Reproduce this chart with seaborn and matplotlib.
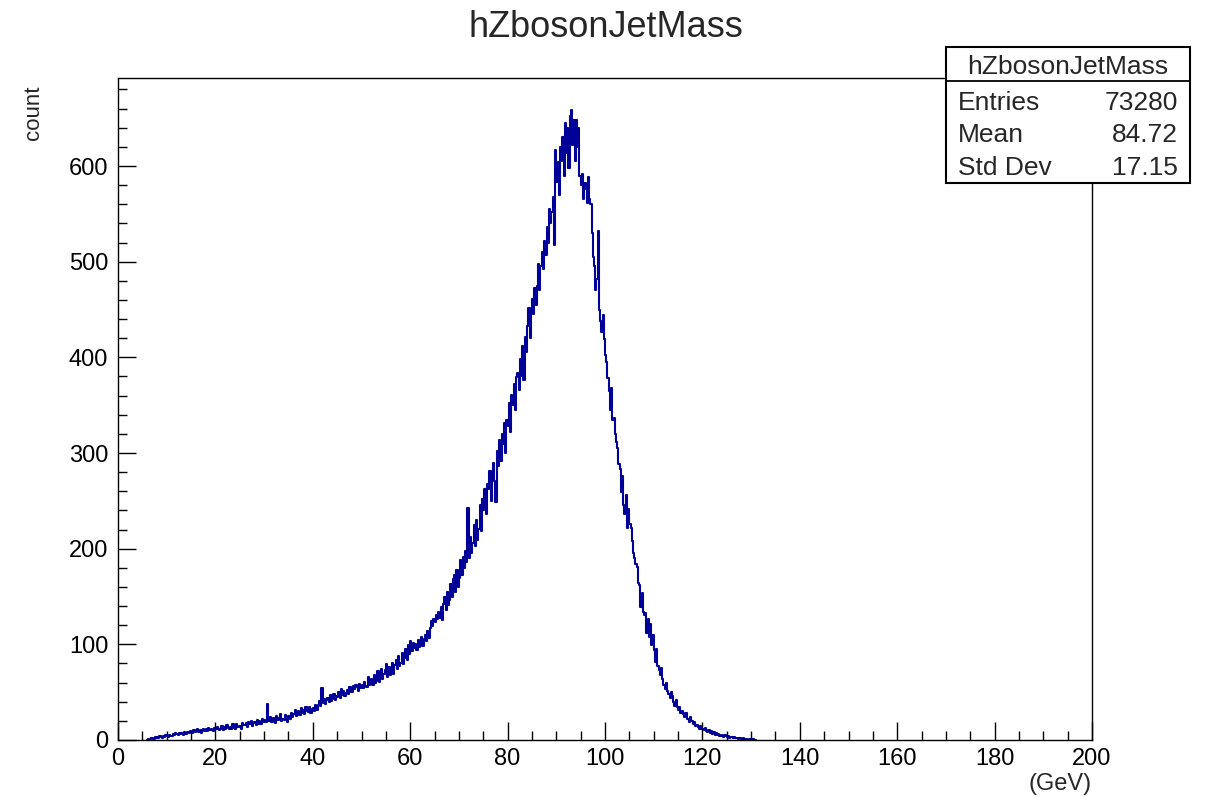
import numpy as np
import pandas as pd
import seaborn as sns
import matplotlib.pyplot as plt
from matplotlib.ticker import MultipleLocator
from matplotlib.patches import Rectangle
from matplotlib.lines import Line2D

# Histogram of the reconstructed Z boson jet mass: 0.25 GeV bins starting at 6 GeV
hist_name = "hZbosonJetMass"
mass_lo = 6.0
bin_width = 0.25
counts = [
    # 6 - 11 GeV
    0, 1, 1, 2, 2, 1, 3, 2, 3, 2, 4, 3, 2, 4, 3, 5, 4, 3, 5, 4,
    # 11 - 16
    4, 6, 5, 7, 6, 5, 7, 6, 7, 5, 8, 6, 6, 8, 7, 9, 8, 7, 10, 8,
    # 16 - 21
    9, 11, 8, 10, 7, 10, 12, 9, 11, 9, 13, 10, 12, 10, 9, 13, 11, 14, 12, 10,
    # 21 - 26
    12, 15, 10, 14, 11, 16, 13, 12, 14, 11, 17, 13, 12, 17, 14, 15, 15, 12, 18, 16,
    # 26 - 31
    16, 18, 14, 19, 17, 20, 15, 18, 19, 16, 21, 17, 20, 17, 22, 19, 21, 19, 38, 20,
    # 31 - 36
    20, 24, 19, 23, 22, 18, 25, 21, 23, 27, 20, 22, 21, 26, 23, 19, 25, 22, 28, 24,
    # 36 - 41
    27, 31, 25, 29, 30, 26, 33, 28, 31, 27, 35, 30, 29, 34, 28, 32, 33, 30, 37, 31,
    # 41 - 46
    37, 41, 36, 54, 39, 43, 38, 42, 44, 40, 47, 41, 43, 48, 42, 46, 45, 50, 44, 53,
    # 46 - 51
    47, 51, 46, 49, 52, 48, 55, 50, 50, 56, 53, 58, 55, 51, 59, 54, 58, 54, 61, 56,
    # 51 - 56
    55, 66, 58, 63, 64, 57, 68, 60, 62, 72, 61, 70, 74, 64, 69, 73, 79, 66, 76, 68,
    # 56 - 61
    72, 81, 69, 78, 84, 74, 88, 77, 80, 91, 79, 86, 95, 84, 99, 90, 104, 93, 101, 96,
    # 61 - 66
    100, 94, 105, 97, 101, 108, 98, 106, 110, 103, 114, 107, 117, 124, 119, 126, 123, 131, 126, 134,
    # 66 - 71
    128, 139, 125, 142, 150, 136, 155, 141, 146, 163, 149, 168, 172, 155, 178, 160, 169, 188, 172, 191,
    # 71 - 76
    180, 198, 186, 243, 190, 212, 195, 206, 225, 203, 230, 209, 221, 246, 218, 252, 240, 262, 236, 268,
    # 76 - 81
    262, 281, 250, 276, 290, 271, 249, 302, 286, 314, 292, 320, 309, 331, 300, 335, 328, 352, 322, 361,
    # 81 - 86
    350, 372, 345, 379, 384, 366, 398, 381, 412, 376, 421, 406, 433, 452, 420, 447, 461, 445, 472, 455,
    # 86 - 91
    475, 498, 470, 495, 510, 492, 522, 507, 536, 520, 555, 540, 552, 568, 517, 617, 583, 604, 570, 620,
    # 91 - 96
    605, 630, 590, 645, 614, 640, 598, 652, 659, 622, 648, 605, 648, 620, 640, 590, 580, 592, 565, 582,
    # 96 - 101
    576, 561, 588, 566, 560, 530, 505, 495, 470, 482, 532, 450, 438, 426, 444, 419, 402, 395, 378, 365,
    # 101 - 106
    345, 368, 334, 337, 320, 312, 305, 288, 283, 259, 276, 246, 236, 256, 222, 241, 226, 222, 208, 195,
    # 106 - 111
    190, 184, 181, 164, 162, 139, 154, 134, 131, 133, 112, 127, 108, 121, 99, 110, 94, 82, 95, 77,
    # 111 - 116
    73, 68, 75, 64, 57, 53, 60, 51, 48, 44, 50, 46, 40, 36, 42, 34, 31, 35, 28, 30,
    # 116 - 121
    27, 24, 28, 22, 22, 19, 24, 20, 17, 19, 15, 16, 14, 12, 15, 11, 12, 10, 13, 9,
    # 121 - 126
    8, 10, 7, 9, 6, 8, 5, 7, 5, 6, 4, 5, 4, 3, 5, 4, 3, 4, 2, 3,
    # 126 - 131
    3, 2, 3, 2, 2, 1, 2, 2, 1, 2, 1, 1, 1, 0, 1, 1, 0, 1, 0, 0,
]
# mean and standard deviation of the unbinned fill values, as quoted in the stats box
stat_mean = 84.72
stat_std = 17.15

x_range = (0, 200)
y_max = 692
x_title = "(GeV)"
y_title = "count"

counts = np.asarray(counts, dtype=float)
n_bins = len(counts)
mass_hi = mass_lo + bin_width * n_bins
centers = mass_lo + bin_width * (np.arange(n_bins) + 0.5)
df = pd.DataFrame({"mass": centers, "count": counts})

entries = int(counts.sum())

sns.set_style("ticks")
plt.rcParams["font.family"] = ["Liberation Sans", "DejaVu Sans"]

W, H = 1213, 798
fig = plt.figure(figsize=(W / 100, H / 100), dpi=100)
ax = fig.add_axes([118 / W, 1 - 740 / H, 974 / W, 662 / H])

sns.histplot(data=df, x="mass", weights="count", binwidth=bin_width,
             binrange=(mass_lo, mass_hi), element="step", fill=False,
             color="#000099", linewidth=1.5, ax=ax)

ax.set_xlim(*x_range)
ax.set_ylim(0, y_max)
ax.set_xlabel("")
ax.set_ylabel("")
ax.xaxis.set_major_locator(MultipleLocator(20))
ax.xaxis.set_minor_locator(MultipleLocator(5))
ax.yaxis.set_major_locator(MultipleLocator(100))
ax.yaxis.set_minor_locator(MultipleLocator(20))
ax.tick_params(which="both", direction="in", top=False, right=False,
               colors="black", width=1.0)
ax.tick_params(which="major", length=13, labelsize=17)
ax.tick_params(which="minor", length=6.5)
ax.tick_params(axis="x", pad=6)
ax.tick_params(axis="y", pad=7)
for sp in ax.spines.values():
    sp.set_color("black")
    sp.set_linewidth(1.0)


def fx(px):
    return px / W


def fy(py):
    return 1 - py / H


fig.text(fx(606), fy(37), hist_name, ha="center", va="baseline", fontsize=26)
fig.text(fx(33), fy(86), y_title, rotation=90, ha="center", va="top", fontsize=16)
fig.text(fx(1092), fy(790), x_title, ha="right", va="baseline", fontsize=17)

# stats box
box_l, box_r, box_t, box_b, box_sep = 946, 1190, 47, 183, 81
fig.add_artist(Rectangle((fx(box_l), fy(box_b)), (box_r - box_l) / W, (box_b - box_t) / H,
                         transform=fig.transFigure, facecolor="white",
                         edgecolor="black", linewidth=1.5, zorder=10))
fig.add_artist(Line2D([fx(box_l), fx(box_r)], [fy(box_sep), fy(box_sep)],
                      transform=fig.transFigure, color="black", linewidth=1.3, zorder=11))
fig.text(fx((box_l + box_r) / 2), fy(74), hist_name, ha="center", va="baseline",
         fontsize=19, zorder=12)
rows = [("Entries", f"{entries}"), ("Mean", f"{stat_mean:.2f}"), ("Std Dev", f"{stat_std:.2f}")]
for (name, val), base in zip(rows, [110, 142, 175]):
    fig.text(fx(958), fy(base), name, ha="left", va="baseline", fontsize=19, zorder=12)
    fig.text(fx(1178), fy(base), val, ha="right", va="baseline", fontsize=19, zorder=12)

fig.savefig("out.png", dpi=100)
